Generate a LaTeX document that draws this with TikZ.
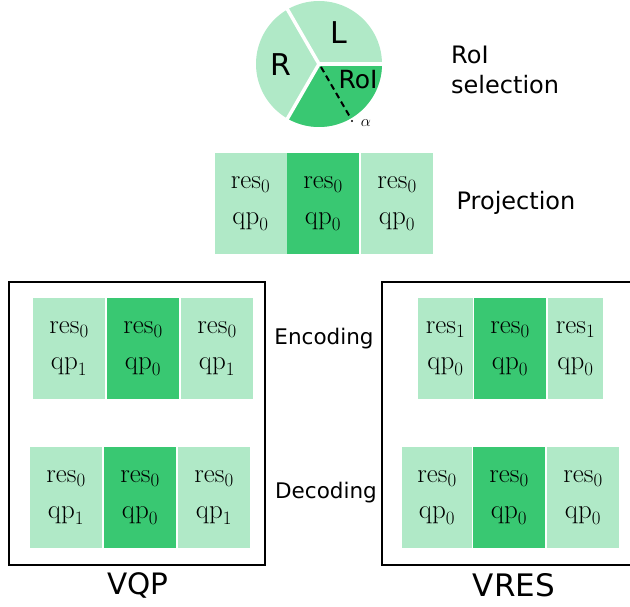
\RequirePackage{fix-cm}
\documentclass[tikz,border=0pt]{standalone}
\usepackage{fontspec}
\newfontfamily\dv{DejaVu Sans}
\definecolor{lightg}{HTML}{B0E9C7}
\definecolor{darkg}{HTML}{39C872}
\tikzset{
  cell/.style={fill=lightg, minimum width=72pt, minimum height=101pt, inner sep=0pt, align=center, font=\fontsize{27}{36}\selectfont},
  dcell/.style={cell, fill=darkg},
  lab/.style={font=\dv\fontsize{21.5}{30}\selectfont, inner sep=0pt},
  biglab/.style={font=\dv\fontsize{29.5}{30}\selectfont, inner sep=0pt},
  pielab/.style={font=\dv\fontsize{30}{32}\selectfont, inner sep=0pt},
  frame/.style={draw=black, line width=2pt}
}
\newcommand{\resqp}[2]{$\mathrm{res}_{#1}$\\$\mathrm{qp}_{#2}$}
\begin{document}
\begin{tikzpicture}[x=1pt, y=-1pt]
\clip (0,0) rectangle (630,607);
\useasboundingbox (0,0) rectangle (630,607);
% pie
\coordinate (pc) at (319,64);
\fill[lightg] (pc) circle (63);
\fill[darkg] (pc) -- ++(0:63) arc[start angle=0, end angle=120, radius=63] -- cycle;
\draw[white, line width=3.5pt] (pc) -- ++(0:66);
\draw[white, line width=3.5pt] (pc) -- ++(-120:66);
\draw[white, line width=3.5pt] (pc) -- ++(-240:66);
\node[pielab] (pL) at (339,33) {L};
\node[pielab] (pR) at (281,65) {R};
\node[pielab, font=\dv\fontsize{25}{28}\selectfont] (pRoI) at (358,80) {RoI};
\draw[line width=2pt, dash pattern=on 6pt off 4pt] (321,67) -- (350,117);
\fill (352,121) circle (1.1pt);
\node[inner sep=0pt, font=\fontsize{16}{18}\selectfont] (alpha) at (366,123) {$\alpha$};
\node[lab, font=\dv\fontsize{24}{30}\selectfont, align=left, anchor=west] (sel) at (451,70) {RoI\\selection};
% projection
\node[cell] (p1) at (250.5,203.5) {\resqp00};
\node[dcell] (p2) at (323,203.5) {\resqp00};
\node[cell] (p3) at (397,203.5) {\resqp00};
\node[lab, font=\dv\fontsize{24}{30}\selectfont] (proj) at (516,203) {Projection};
% frames
\draw[frame] (9,282) rectangle (265,565);
\draw[frame] (382,282) rectangle (660,565);
% VQP
\node[cell] (qe1) at (69,348.5) {\resqp01};
\node[dcell] (qe2) at (143,348.5) {\resqp00};
\node[cell] (qe3) at (217,348.5) {\resqp01};
\node[cell] (qd1) at (66,497.5) {\resqp01};
\node[dcell] (qd2) at (140,497.5) {\resqp00};
\node[cell] (qd3) at (214,497.5) {\resqp01};
% VRES
\node[cell, minimum width=55pt] (re1) at (445.5,348.5) {\resqp10};
\node[dcell] (re2) at (510,348.5) {\resqp00};
\node[cell, minimum width=55pt] (re3) at (575.5,348.5) {\resqp10};
\node[cell, minimum width=70pt] (rd1) at (437,497.5) {\resqp00};
\node[dcell] (rd2) at (509,497.5) {\resqp00};
\node[cell] (rd3) at (583,497.5) {\resqp00};
% labels
\node[lab] (enc) at (324,339) {Encoding};
\node[lab] (dec) at (326,493) {Decoding};
\node[biglab] (vqp) at (138,585) {VQP};
\node[biglab, font=\dv\fontsize{31}{30}\selectfont] (vres) at (514,585) {VRES};
\end{tikzpicture}
\end{document}
